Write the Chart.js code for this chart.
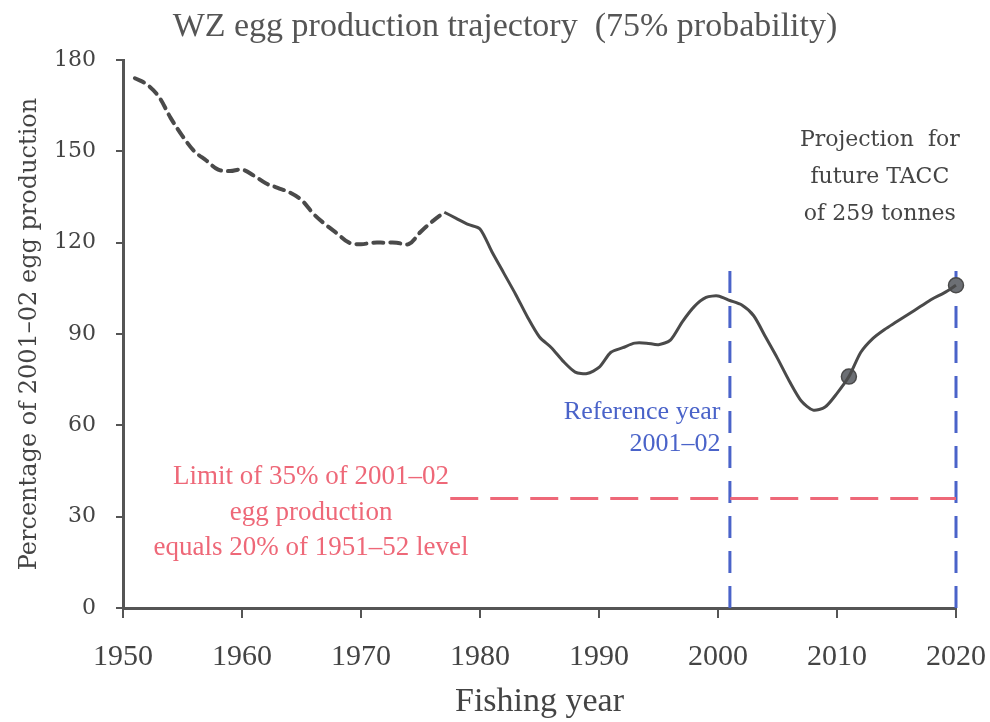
<!DOCTYPE html>
<html>
<head>
<meta charset="utf-8">
<script src="https://cdn.jsdelivr.net/npm/chart.js@4.4.1/dist/chart.umd.min.js"></script>
<style>
  html, body { margin: 0; padding: 0; background: #fff; }
  #wrap { width: 990px; height: 722px; position: relative; }
</style>
</head>
<body>
<div id="wrap"><canvas id="eggChart"></canvas></div>
<script>
// historic (dashed) part of the trajectory
const histYears  = [1951, 1952, 1953, 1954, 1955, 1956, 1957, 1958, 1959, 1960, 1961, 1962, 1963, 1964,
                    1965, 1966, 1967, 1968, 1969, 1970, 1971, 1972, 1973, 1974, 1975, 1976, 1977];
const histValues = [174, 172, 168, 161, 155, 150, 147, 144, 143.5, 144, 142, 139.5, 138, 136.5,
                    134, 129.5, 126, 123, 120, 119.5, 120, 120, 120, 119.5, 123.5, 127, 130];

// model (solid) part, incl. projection to 2020
const modelYears  = [1977, 1978, 1979, 1980, 1981, 1982, 1983, 1984, 1985, 1986, 1987, 1988, 1989, 1990,
                     1991, 1992, 1993, 1994, 1995, 1996, 1997, 1998, 1999, 2000, 2001, 2002, 2003, 2004,
                     2005, 2006, 2007, 2008, 2009, 2010, 2011, 2012, 2013, 2014, 2015, 2016, 2017, 2018,
                     2019, 2020];
const modelValues = [130, 128, 126, 124.5, 117, 110, 103, 95.5, 89, 85.5, 81, 77.5, 77, 79,
                     84, 85.5, 87, 87, 86.5, 88, 94, 99, 102, 102.5, 101, 99.5, 96, 89,
                     82, 74.5, 68, 65, 66, 70.5, 76, 84, 88.5, 91.5, 94, 96.5, 99, 101.5,
                     103.5, 106];

const markerYears  = [2011, 2020];
const markerValues = [76, 106];

const limitYears  = [1977.5, 2020];
const limitValues = [36, 36];

const refYear     = 2001;
const projYear    = 2020;
const vlineTop    = 112;

const xTicks = [1950, 1960, 1970, 1980, 1990, 2000, 2010, 2020];
const yTicks = [0, 30, 60, 90, 120, 150, 180];

const TITLE = 'WZ egg production trajectory  (75% probability)';

const LINE_COLOR = '#4a4a4a';
const AXIS_COLOR = '#555555';
const TEXT_COLOR = '#444444';
const BLUE       = '#4a63c9';
const RED        = '#ee6878';

const pts = (xs, ys) => xs.map((x, i) => ({ x: x, y: ys[i] }));

// title + free text notes, placed in data units
const notesPlugin = {
    id: 'notes',
    afterDatasetsDraw(chart) {
        const { ctx, scales: { x, y } } = chart;
        const notes = [
            { x: 2013.6, y: 153.7, step: 37, align: 'center', color: TEXT_COLOR, font: '22px "DejaVu Serif"',
              lines: ['Projection  for', 'future TACC', 'of 259 tonnes'] },
            { x: 2000.2, y: 64.4, step: 32, align: 'right', color: BLUE, font: '26px "Liberation Serif"',
              lines: ['Reference year', '2001\u201302'] },
            { x: 1965.8, y: 43, step: 35.5, align: 'center', color: RED, font: '27px "Liberation Serif"',
              lines: ['Limit of 35% of 2001\u201302', 'egg production', 'equals 20% of 1951\u201352 level'] }
        ];
        ctx.save();
        ctx.textBaseline = 'middle';

        ctx.font = '34px "Liberation Serif"';
        ctx.fillStyle = AXIS_COLOR;
        ctx.textAlign = 'center';
        ctx.fillText(TITLE, 505, 27);

        notes.forEach(n => {
            ctx.font = n.font;
            ctx.fillStyle = n.color;
            ctx.textAlign = n.align;
            const px = x.getPixelForValue(n.x);
            const py = y.getPixelForValue(n.y);
            n.lines.forEach((t, i) => ctx.fillText(t, px, py + i * n.step));
        });
        ctx.restore();
    }
};

new Chart(document.getElementById('eggChart'), {
    type: 'line',
    data: {
        datasets: [
            {
                label: 'historic',
                data: pts(histYears, histValues),
                borderColor: LINE_COLOR,
                borderWidth: 4,
                borderDash: [10, 7],
                borderCapStyle: 'round',
                pointRadius: 0,
                tension: 0.35,
                clip: false
            },
            {
                label: 'model',
                data: pts(modelYears, modelValues),
                borderColor: LINE_COLOR,
                borderWidth: 3,
                pointRadius: 0,
                tension: 0.25,
                clip: false
            },
            {
                label: 'markers',
                data: pts(markerYears, markerValues),
                showLine: false,
                pointRadius: 7.5,
                pointBackgroundColor: '#6c6f74',
                pointBorderColor: '#4a4a4a',
                pointBorderWidth: 1.5,
                clip: false
            },
            {
                label: 'limit',
                data: pts(limitYears, limitValues),
                borderColor: RED,
                borderWidth: 3,
                borderDash: [28, 12],
                pointRadius: 0,
                clip: false
            },
            {
                label: 'reference year',
                data: pts([refYear, refYear], [0, vlineTop]),
                borderColor: BLUE,
                borderWidth: 3,
                borderDash: [22, 13],
                pointRadius: 0,
                clip: false
            },
            {
                label: 'projection year',
                data: pts([projYear, projYear], [0, vlineTop]),
                borderColor: BLUE,
                borderWidth: 3,
                borderDash: [22, 13],
                pointRadius: 0,
                clip: false
            }
        ]
    },
    options: {
        responsive: true,
        maintainAspectRatio: false,
        animation: false,
        layout: { padding: { left: 0, right: 34, top: 60, bottom: 0 } },
        plugins: {
            legend: { display: false },
            tooltip: { enabled: false },
            title: { display: false }
        },
        scales: {
            x: {
                type: 'linear',
                min: 1950,
                max: 2020,
                afterBuildTicks: s => { s.ticks = xTicks.map(v => ({ value: v })); },
                afterFit: s => { s.height = 114; s.paddingLeft = 0; s.paddingRight = 0; },
                grid: { drawOnChartArea: false, color: AXIS_COLOR, lineWidth: 2, tickLength: 10 },
                border: { color: AXIS_COLOR, width: 3 },
                ticks: {
                    color: TEXT_COLOR,
                    padding: 21,
                    font: { family: 'Liberation Serif', size: 30 },
                    callback: v => String(v)
                },
                title: {
                    display: true,
                    text: 'Fishing year',
                    color: TEXT_COLOR,
                    font: { family: 'Liberation Serif', size: 34 },
                    padding: { top: 0, bottom: 0 }
                }
            },
            y: {
                min: 0,
                max: 180,
                afterBuildTicks: s => { s.ticks = yTicks.map(v => ({ value: v })); },
                afterFit: s => { s.width = 123; s.paddingTop = 0; s.paddingBottom = 0; },
                grid: { drawOnChartArea: false, color: AXIS_COLOR, lineWidth: 2, tickLength: 7 },
                border: { color: AXIS_COLOR, width: 3 },
                ticks: {
                    color: TEXT_COLOR,
                    padding: 20,
                    font: { family: 'DejaVu Serif', size: 22 }
                },
                title: {
                    display: true,
                    text: 'Percentage of 2001\u201302 egg production',
                    color: TEXT_COLOR,
                    font: { family: 'DejaVu Serif', size: 24 },
                    padding: { top: 15, bottom: 0 }
                }
            }
        }
    },
    plugins: [notesPlugin]
});
</script>
</body>
</html>
